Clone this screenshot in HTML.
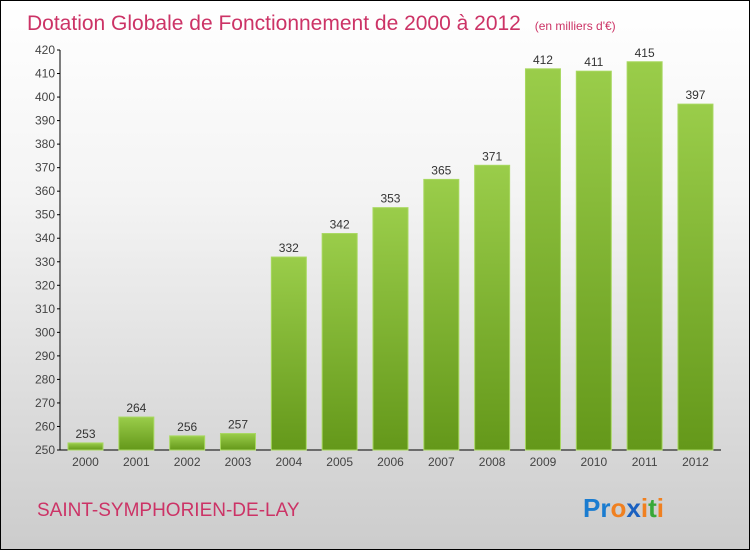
<!DOCTYPE html>
<html><head><meta charset="utf-8"><style>
html,body{margin:0;padding:0}
body{width:750px;height:550px;overflow:hidden;font-family:"Liberation Sans",sans-serif}
#wrap{position:relative;width:748px;height:548px;border:1px solid #000;background:linear-gradient(#ffffff 0%,#f4f4f4 35%,#d8d8d8 80%,#cccccc 100%)}
</style></head><body>
<div id="wrap">
<svg id="chart" width="748" height="548" xmlns="http://www.w3.org/2000/svg">
<defs>
<linearGradient id="bg" x1="0" y1="0" x2="0" y2="1">
<stop offset="0" stop-color="#9acd4a"/><stop offset="1" stop-color="#64981a"/>
</linearGradient>
</defs>
<text x="26" y="29" font-size="21" fill="#cc3366">Dotation Globale de Fonctionnement de 2000 à 2012 <tspan font-size="12" dx="8">(en milliers d'€)</tspan></text>
<text x="36" y="515" font-size="19" fill="#cc3366">SAINT-SYMPHORIEN-DE-LAY</text>
<g font-size="26" font-weight="bold" font-family="'Liberation Sans',sans-serif">
<text x="582" y="516"><tspan fill="#1a7cd0">Pr</tspan><tspan fill="#f08020">o</tspan><tspan fill="#1a60c0">x</tspan><tspan fill="#f08020">i</tspan><tspan fill="#38a838">t</tspan><tspan fill="#f08020">i</tspan></text>
</g>
<g id="axes"></g>
<g id="bars"></g>
</svg>
</div>
<script>
const categories=["2000","2001","2002","2003","2004","2005","2006","2007","2008","2009","2010","2011","2012"];
const values=[253,264,256,257,332,342,353,365,371,412,411,415,397];
const yTicks=[250,260,270,280,290,300,310,320,330,340,350,360,370,380,390,400,410,420];
const NS="http://www.w3.org/2000/svg";
const yMin=250,yMax=420,yTop=49,yBot=449;
function y(v){return yBot-(v-yMin)/(yMax-yMin)*(yBot-yTop);}
function x(i){return 67+i*50.83;}
const bw=35;
function mk(t,a,p){const e=document.createElementNS(NS,t);for(const k in a)e.setAttribute(k,a[k]);p.appendChild(e);return e;}
const axes=document.getElementById('axes'),bars=document.getElementById('bars');
const yl=mk('line',{x1:59,y1:yTop,x2:59,y2:yBot,stroke:'#000','stroke-width':1},axes);


const xl=mk('line',{x1:59,y1:yBot,x2:720,y2:yBot,stroke:'#000','stroke-width':1},axes);


yTicks.forEach(v=>{
  mk('line',{x1:56,y1:y(v),x2:59,y2:y(v),stroke:'#000'},axes);
  const t=mk('text',{x:54,y:y(v)+4,'text-anchor':'end','font-size':12,fill:'#444'},axes);
  t.textContent=v;
  
  
});
categories.forEach((c,i)=>{
  const r=mk('rect',{x:x(i),y:y(values[i]),width:bw,height:yBot-y(values[i]),fill:'url(#bg)',stroke:'#a8d860','stroke-width':1},bars);
  
  
  const vl=mk('text',{x:x(i)+bw/2,y:y(values[i])-5,'text-anchor':'middle','font-size':12,fill:'#333'},bars);
  vl.textContent=values[i];
  
  
  const xlb=mk('text',{x:x(i)+bw/2,y:yBot+16,'text-anchor':'middle','font-size':12,fill:'#444'},bars);
  xlb.textContent=c;
  
  
});
</script>
</body></html>
